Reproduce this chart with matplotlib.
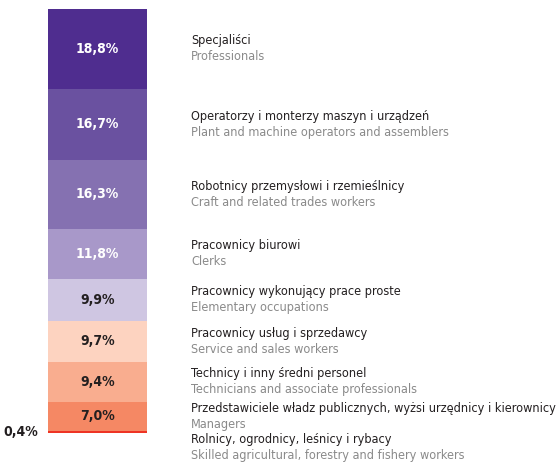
import numpy as np
import matplotlib
matplotlib.use("Agg")
import matplotlib.pyplot as plt

# ── data ──────────────────────────────────────────────────────────────────────
shares = [18.8, 16.7, 16.3, 11.8, 9.9, 9.7, 9.4, 7.0, 0.4]
share_labels = ["18,8%", "16,7%", "16,3%", "11,8%", "9,9%", "9,7%", "9,4%", "7,0%", "0,4%"]
names_pl = [
    "Specjaliści",
    "Operatorzy i monterzy maszyn i urządzeń",
    "Robotnicy przemysłowi i rzemieślnicy",
    "Pracownicy biurowi",
    "Pracownicy wykonujący prace proste",
    "Pracownicy usług i sprzedawcy",
    "Technicy i inny średni personel",
    "Przedstawiciele władz publicznych, wyżsi urzędnicy i kierownicy",
    "Rolnicy, ogrodnicy, leśnicy i rybacy",
]
names_en = [
    "Professionals",
    "Plant and machine operators and assemblers",
    "Craft and related trades workers",
    "Clerks",
    "Elementary occupations",
    "Service and sales workers",
    "Technicians and associate professionals",
    "Managers",
    "Skilled agricultural, forestry and fishery workers",
]
colors = ["#4f2d8f", "#6a51a0", "#8571b1", "#a898c9", "#cfc6e2",
          "#fdd3c0", "#f9ad8f", "#f58864", "#ee3424"]

plt.rcParams["font.family"] = ["DejaVu Sans"]
plt.rcParams["font.stretch"] = "condensed"

W, H, DPI = 559, 466, 100
PX = 4.24          # pixels per percent
TOP = 9            # bar top in pixels

fig = plt.figure(figsize=(W / DPI, H / DPI), dpi=DPI)
ax = fig.add_axes([0, 0, 1, 1])
ax.set_xlim(0, W)
ax.set_ylim((H - TOP) / PX, -TOP / PX)
ax.axis("off")

bottoms = np.concatenate([[0], np.cumsum(shares)[:-1]])
ax.bar(97.5, shares, bottom=bottoms, width=99, color=colors, align="center")

for i, (b, s, lab) in enumerate(zip(bottoms, shares, share_labels)):
    if s < 2:
        ax.text(21, b + s / 2, lab, ha="center", va="center", fontsize=10,
                fontweight="bold", color="#231f20")
        continue
    ax.text(97.5, b + s / 2, lab, ha="center", va="center", fontsize=10,
            fontweight="bold", color="white" if i < 4 else "#231f20")

# category labels: centred on segment, pushed down when they would overlap
gap = 34 / PX
centers = list(bottoms + np.array(shares) / 2)
for i in range(1, len(centers)):
    centers[i] = max(centers[i], centers[i - 1] + gap)
centers[-1] -= 3 / PX

for c, pl, en in zip(centers, names_pl, names_en):
    ax.text(191, c - 8 / PX, pl, ha="left", va="center", fontsize=9.1, color="#231f20")
    ax.text(191, c + 8 / PX, en, ha="left", va="center", fontsize=9.1, color="#8a8a8a")

fig.savefig("out.png", dpi=DPI)
